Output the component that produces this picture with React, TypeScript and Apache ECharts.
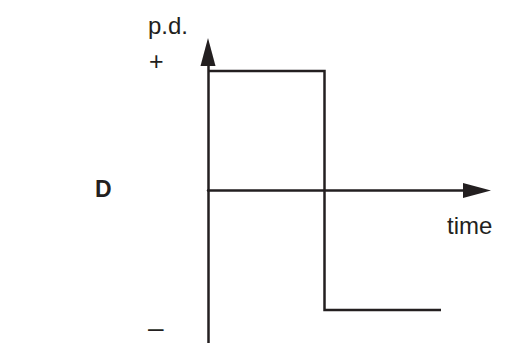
import React, { useEffect, useRef } from "react";
import * as echarts from "echarts";

// Square-wave p.d. against time (schematic)
const timeValues = [0, 1, 1, 2];
const pdValues = [1, 1, -1, -1];
const axisLabels = { y: "p.d.", x: "time", plus: "+", minus: "–", tag: "D" };

const INK = "#231f20";

export default function App() {
  const ref = useRef<HTMLDivElement>(null);
  useEffect(() => {
    if (!ref.current) return;
    const chart = echarts.init(ref.current, undefined, { renderer: "svg" });
    const data = timeValues.map((t, i) => [t, pdValues[i]]);
    const font = "'Liberation Sans', Arial, Helvetica, sans-serif";
    const axisCommon = {
      type: "value" as const,
      axisLine: {
        show: true,
        onZero: true,
        symbol: ["none", "triangle"],
        symbolSize: [15, 28],
        lineStyle: { color: INK, width: 2.5 },
      },
      axisTick: { show: false },
      axisLabel: { show: false },
      splitLine: { show: false },
    };
    chart.setOption({
      animation: false,
      grid: { left: 208, right: 45, top: 52, bottom: 0 },
      xAxis: { ...axisCommon, min: 0, max: 2.309 },
      yAxis: { ...axisCommon, min: -1.276, max: 1.159 },
      series: [
        {
          type: "line",
          data,
          symbol: "none",
          lineStyle: { color: INK, width: 2.5, join: "miter" },
        },
      ],
      graphic: [
        { type: "text", left: 148, top: 13, style: { text: axisLabels.y, font: `24px ${font}`, fill: INK } },
        { type: "text", left: 149, top: 48, style: { text: axisLabels.plus, font: `25px ${font}`, fill: INK } },
        { type: "text", left: 447, top: 213, style: { text: axisLabels.x, font: `24px ${font}`, fill: INK } },
        { type: "text", left: 148, top: 313, style: { text: axisLabels.minus, font: `28px ${font}`, fill: INK } },
        { type: "text", left: 95, top: 177, style: { text: axisLabels.tag, font: `bold 23px ${font}`, fill: INK } },
      ],
    });
    return () => chart.dispose();
  }, []);
  return <div ref={ref} style={{ position: "absolute", left: 0, top: 0, width: 522, height: 343 }} />;
}
